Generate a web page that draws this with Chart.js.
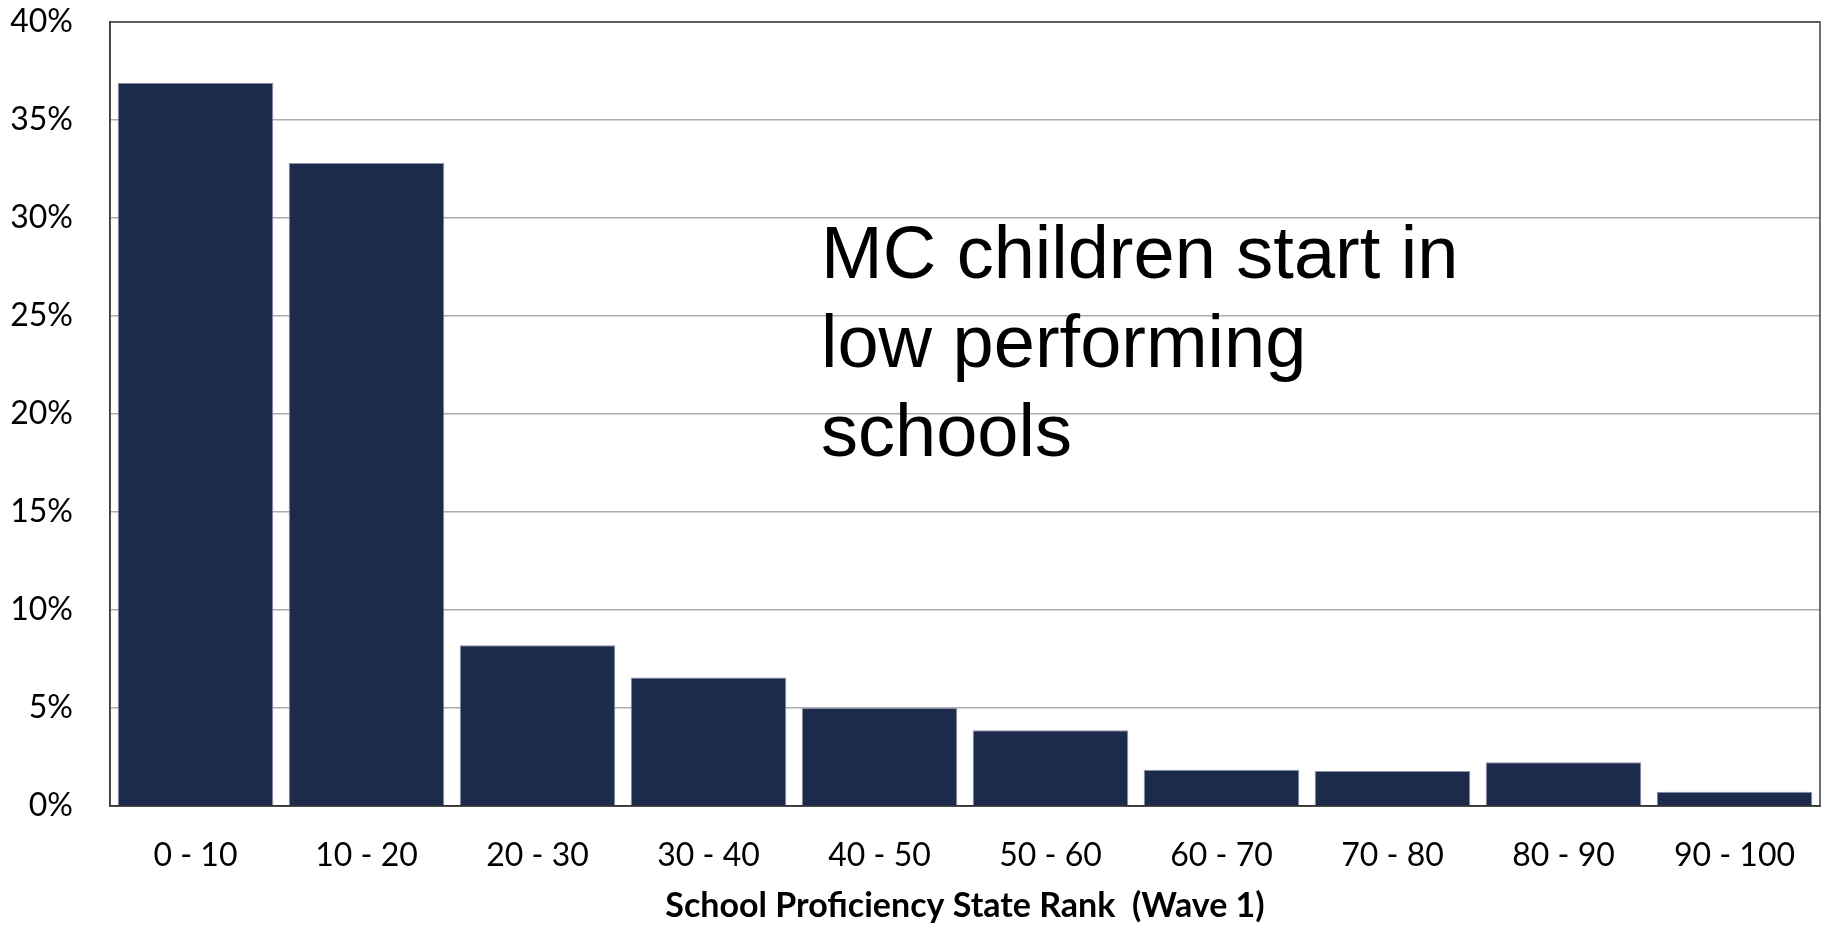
<!DOCTYPE html>
<html>
<head>
<meta charset="utf-8">
<script src="https://cdn.jsdelivr.net/npm/chart.js@4"></script>
<style>
    html, body { margin: 0; padding: 0; background: #fff; }
    #wrap { width: 1827px; height: 926px; }
</style>
</head>
<body>
<div id="wrap"><canvas id="myChart" width="1827" height="926"></canvas></div>
<script>
const labels = [
    '0 - 10', '10 - 20', '20 - 30', '30 - 40', '40 - 50',
    '50 - 60', '60 - 70', '70 - 80', '80 - 90', '90 - 100'
];

const shares = [36.9, 32.8, 8.2, 6.55, 5.0, 3.86, 1.85, 1.78, 2.23, 0.73];

const yTicks = [0, 5, 10, 15, 20, 25, 30, 35, 40];

const note = ['MC children start in', 'low performing', 'schools'];

// box round the plot area and the text note
const framePlugin = {
    id: 'frame',
    afterDraw(chart) {
        const ctx = chart.ctx;
        const a = chart.chartArea;
        ctx.save();
        ctx.strokeStyle = '#3c3c3c';
        ctx.lineWidth = 1.5;
        ctx.strokeRect(a.left, a.top, a.right - a.left, a.bottom - a.top);
        ctx.fillStyle = '#000';
        ctx.font = '74px "Liberation Sans", Arial, sans-serif';
        ctx.textBaseline = 'alphabetic';
        const x = a.left + (a.right - a.left) * 0.4158;
        const y0 = chart.scales.y.getPixelForValue(26.95);
        for (let i = 0; i < note.length; i++) {
            ctx.fillText(note[i], x, y0 + i * 89);
        }
        ctx.restore();
    }
};

const data = {
    labels: labels,
    datasets: [{
        data: shares,
        backgroundColor: '#1c2a4b',
        borderColor: '#8d96ab',
        borderWidth: 1,
        barPercentage: 0.91,
        categoryPercentage: 1.0
    }]
};

const config = {
    type: 'bar',
    data: data,
    options: {
        responsive: false,
        animation: false,
        layout: { padding: { top: 22, right: 7, left: 0, bottom: 0 } },
        plugins: {
            legend: { display: false },
            tooltip: { enabled: false }
        },
        scales: {
            x: {
                grid: { display: false, drawTicks: false },
                border: { color: '#1a1a1a', width: 1.5 },
                ticks: {
                    color: '#000',
                    padding: 30,
                    maxRotation: 0,
                    font: { family: 'Lato, "Open Sans", sans-serif', size: 32 }
                },
                title: {
                    display: true,
                    text: 'School Proficiency State Rank  (Wave 1)',
                    color: '#000',
                    padding: { top: 4, bottom: 0 },
                    font: { family: 'Lato, "Open Sans", sans-serif', size: 34, weight: 'bold' }
                },
                afterFit(scale) {
                    scale.height = 120;
                    scale.paddingLeft = 0;
                    scale.paddingRight = 0;
                }
            },
            y: {
                min: 0,
                max: 40,
                afterBuildTicks(scale) {
                    scale.ticks = yTicks.map(v => ({ value: v }));
                },
                grid: { color: '#ababab', lineWidth: 1.5, drawTicks: false },
                border: { color: '#3c3c3c', width: 1.5 },
                ticks: {
                    color: '#000',
                    padding: 37,
                    callback: v => v + '%',
                    font: { family: 'Lato, "Open Sans", sans-serif', size: 32 }
                },
                afterFit(scale) {
                    scale.width = 110;
                    scale.paddingTop = 0;
                    scale.paddingBottom = 0;
                }
            }
        }
    },
    plugins: [framePlugin]
};

function makeChart() {
    const myChart = new Chart(
        document.getElementById('myChart'),
        config
    );
}

makeChart();
</script>
</body>
</html>
